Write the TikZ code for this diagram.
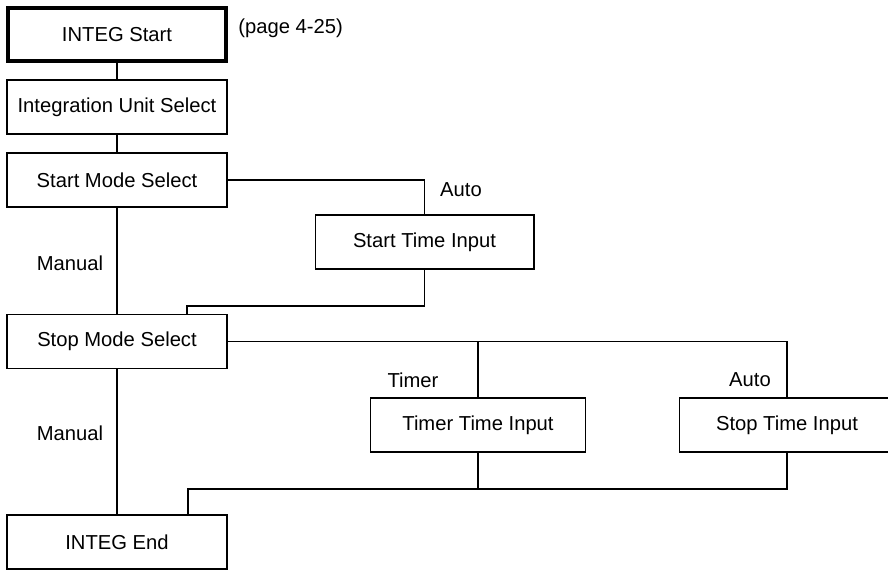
\documentclass[tikz,border=0pt]{standalone}
\usepackage{fontspec}
\setmainfont{Liberation Sans}
\begin{document}
		\begin{tikzpicture}[x=0.02cm, y=-0.02cm, font=\fontsize{11.5}{14}\selectfont, line join=miter, line width=0.6pt,
			box/.style={draw, minimum width=4.4cm, minimum height=1.08cm, inner sep=0pt}]
			\useasboundingbox (0,0) rectangle (888,570);
			\node[box, line width=1.8pt, minimum width=4.36cm, minimum height=1.06cm] (start) at (117,34.5) {INTEG Start};
			\node[right] (page) at (232,28) {(page 4-25)};
			\node[box] (unit) at (117,107) {Integration Unit Select};
			\node[box] (smode) at (117,180) {Start Mode Select};
			\node[box, minimum width=4.38cm] (stime) at (424.5,242) {Start Time Input};
			\node[box] (pmode) at (117,341.5) {Stop Mode Select};
			\node[box, minimum width=4.3cm] (ttime) at (478,425) {Timer Time Input};
			\node[box, minimum width=4.3cm] (ptime) at (787,425) {Stop Time Input};
			\node[box] (endn) at (117,542) {INTEG End};
			\node (auto1) at (461,190) {Auto};
			\node (manual1) at (70,263) {Manual};
			\node (timer) at (413,380) {Timer};
			\node (auto2) at (750,380) {Auto};
			\node (manual2) at (70,433) {Manual};
			\coordinate (j1) at (187,306);
			\coordinate (j2) at (188,489);
			\draw (start) -- (unit);
			\draw (unit) -- (smode);
			\draw (smode) -- (pmode);
			\draw (pmode) -- (endn);
			\draw (smode.east) -| (stime.north);
			\draw (stime.south) |- (j1) -- (j1 |- pmode.north);
			\draw (pmode.east) -| (ptime.north);
			\draw (ttime.north) -- (ttime.north |- pmode.east);
			\draw (ptime.south) |- (j2) -- (j2 |- endn.north);
			\draw (ttime.south) -- (ttime.south |- j2);
		\end{tikzpicture}
\end{document}
